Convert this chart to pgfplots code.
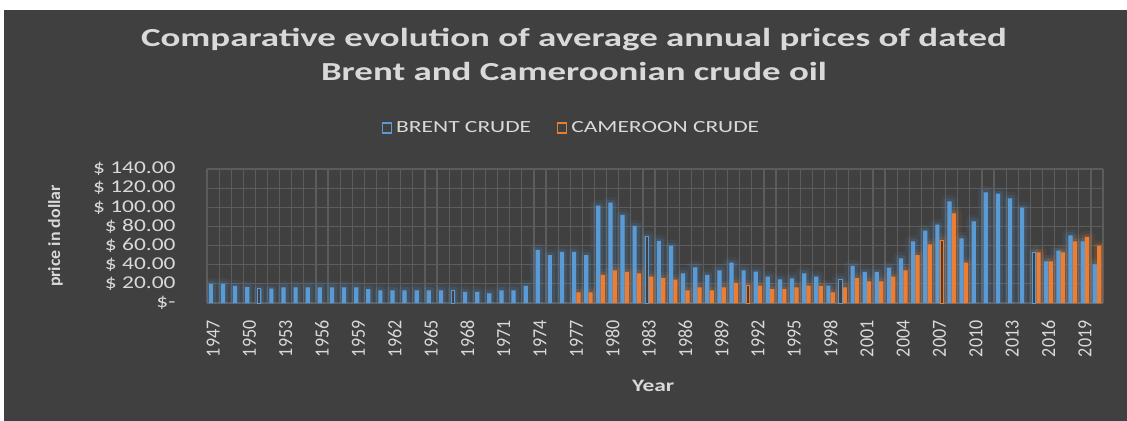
\documentclass[border=0pt]{standalone}
\usepackage{fontspec}
\setmainfont{Carlito}
\newfontfamily\titlefont[FakeStretch=1.42]{Carlito}
\newfontfamily\legfont[FakeStretch=1.38]{Carlito}
\newfontfamily\ytickfont[FakeStretch=1.3]{Carlito}
\newfontfamily\xtickfont[FakeStretch=0.9]{Carlito}
\newfontfamily\ylabfont[FakeStretch=1.05]{Carlito}
\newfontfamily\xlabfont[FakeStretch=1.34]{Carlito}
\usepackage{pgfplots}
\pgfplotsset{compat=1.18}
\usepackage{pgfplotstable}
\definecolor{bg}{HTML}{404040}
\definecolor{brent}{HTML}{5B9BD5}
\definecolor{cam}{HTML}{ED7D31}
\definecolor{gridc}{HTML}{5C5C5C}
\definecolor{txt}{HTML}{D9D9D9}

\pgfplotstableread{
year v
1947 20
1948 20
1949 18
1950 16.5
1951 15
1952 15
1953 16.4
1954 16.4
1955 16.4
1956 16.4
1957 16.4
1958 16.4
1959 16.4
1960 14.6
1961 13.2
1962 13.2
1963 13.2
1964 13.2
1965 13.2
1966 13.2
1967 13.2
1968 11.5
1969 11.5
1970 10.1
1971 13.2
1972 13.2
1973 18
1974 55.4
1975 50.1
1976 53.3
1977 53.3
1978 50.1
1979 101.7
1980 105
1981 92.2
1982 80.6
1983 69.3
1984 64.8
1985 59.9
1986 31
1987 37.3
1988 29.3
1989 34.1
1990 42.1
1991 34.1
1992 32.7
1993 27.5
1994 24.7
1995 25.8
1996 31
1997 27.5
1998 18.1
1999 24.7
2000 38.7
2001 32.4
2002 32.4
2003 36.9
2004 46.7
2005 64.4
2006 75.6
2007 81.8
2008 106.2
2009 67.6
2010 85.3
2011 115.6
2012 114.2
2013 109.3
2014 99.6
2015 52.9
2016 43.5
2017 54.7
2018 70.7
2019 64.4
2020 40.4
}\brent

\pgfplotstableread{
year v
1977 11.1
1978 11.1
1979 29.3
1980 34.1
1981 32.4
1982 31
1983 27.5
1984 26.1
1985 24.4
1986 13.2
1987 16.4
1988 13.2
1989 16.4
1990 20.9
1991 17.8
1992 18.1
1993 14.6
1994 14.6
1995 16.4
1996 18.1
1997 17.8
1998 11.1
1999 16.4
2000 26.1
2001 22.6
2002 22.6
2003 27.5
2004 34.1
2005 50.1
2006 61.3
2007 65.8
2008 93.7
2009 42.1
2015 52.9
2016 43.5
2017 52.9
2018 64.4
2019 69
2020 59.9
}\cam

\pgfplotstableread{
year v
1951 15
1967 13.2
1983 69.3
1999 24.7
2015 52.9
}\brentout

\pgfplotstableread{
year v
1991 17.8
2007 65.8
}\camout

\begin{document}
\begin{tikzpicture}[x=1bp,y=1bp]
\fill[bg] (-20,-20) rectangle (1150,440);
\fill[white] (-20,410) rectangle (1150,440);
\fill[white] (-20,-20) rectangle (4,440);
\node[txt, font={\titlefont\bfseries\fontsize{26bp}{34bp}\selectfont}, align=center] at (574,366)
  {Comparative evolution of average annual prices of dated\\Brent and Cameroonian crude oil};
\begin{axis}[
  at={(207bp,117bp)}, anchor=south west, scale only axis,
  width=896bp, height=134bp,
  xmin=1946.5, xmax=2020.5, ymin=0, ymax=140,
  axis line style={draw=none},
  xtick={1947,1950,...,2019},
  minor xtick={1946.5,1947.5,...,2020.5},
  xminorgrids=true, ymajorgrids=true, xmajorgrids=false,
  ytick={0,20,...,140},
  yticklabels={\$-,\$ 20.00,\$ 40.00,\$ 60.00,\$ 80.00,\$ 100.00,\$ 120.00,\$ 140.00},
  major tick length=0pt, minor tick length=0pt,
  major grid style={gridc, line width=1.2bp},
  minor grid style={gridc, line width=1.2bp},
  /pgf/number format/1000 sep={},
  /pgf/number format/assume math mode=true,
  xticklabel style={rotate=90, anchor=east, txt, font={\xtickfont\fontsize{20bp}{22bp}\selectfont}},
  xticklabel shift=14bp,
  yticklabel style={txt, anchor=east, font={\ytickfont\fontsize{18bp}{20bp}\selectfont}},
  yticklabel shift=28bp,
  xlabel={Year},
  ylabel={price in dollar},
  every axis x label/.style={at={(axis description cs:0.498,-0.62)}, anchor=center, txt, font={\xlabfont\bfseries\fontsize{17.5bp}{20bp}\selectfont}},
  every axis y label/.style={at={(axis description cs:-0.169,0.5)}, rotate=90, anchor=center, txt, font={\ylabfont\bfseries\fontsize{17bp}{18bp}\selectfont}},
  legend style={at={(axis description cs:0.408,1.306)}, anchor=center, draw=none, fill=none,
    text=txt, font={\legfont\fontsize{17bp}{19bp}\selectfont}, legend columns=2,
    /tikz/every even column/.append style={column sep=22bp},
    nodes={inner sep=4bp}},
  legend cell align=left,
]
% glow (two soft layers)
\addplot[ybar, bar width=4.2bp, bar shift=-2.2bp, fill=brent, draw=brent, line width=12bp, line join=round, fill opacity=0.08, draw opacity=0.08, forget plot] table[x=year,y=v] {\brent};
\addplot[ybar, bar width=4.2bp, bar shift=2.2bp, fill=cam, draw=cam, line width=12bp, line join=round, fill opacity=0.08, draw opacity=0.08, forget plot] table[x=year,y=v] {\cam};
\addplot[ybar, bar width=4.2bp, bar shift=-2.2bp, fill=brent, draw=brent, line width=6bp, line join=round, fill opacity=0.14, draw opacity=0.14, forget plot] table[x=year,y=v] {\brent};
\addplot[ybar, bar width=4.2bp, bar shift=2.2bp, fill=cam, draw=cam, line width=6bp, line join=round, fill opacity=0.14, draw opacity=0.14, forget plot] table[x=year,y=v] {\cam};
% bars
\addplot[ybar, bar width=4.2bp, bar shift=-2.2bp, fill=brent, draw=none, forget plot] table[x=year,y=v] {\brent};
\addplot[ybar, bar width=4.2bp, bar shift=2.2bp, fill=cam, draw=none, forget plot] table[x=year,y=v] {\cam};
% outlined bars
\addplot[ybar, bar width=3.4bp, bar shift=-2.2bp, fill=bg, draw=brent, line width=1bp, forget plot] table[x=year,y=v] {\brentout};
\addplot[ybar, bar width=3.4bp, bar shift=2.2bp, fill=bg, draw=cam, line width=1bp, forget plot] table[x=year,y=v] {\camout};
\addlegendimage{legend image code/.code={\draw[brent, line width=1.2bp] (0bp,-5bp) rectangle (9bp,5bp);}}
\addlegendentry{BRENT CRUDE}
\addlegendimage{legend image code/.code={\draw[cam, line width=1.2bp] (0bp,-5bp) rectangle (9bp,5bp);}}
\addlegendentry{CAMEROON CRUDE}
\end{axis}
\pgfresetboundingbox
\useasboundingbox (0,0) rectangle (1127,420);
\end{tikzpicture}
\end{document}
